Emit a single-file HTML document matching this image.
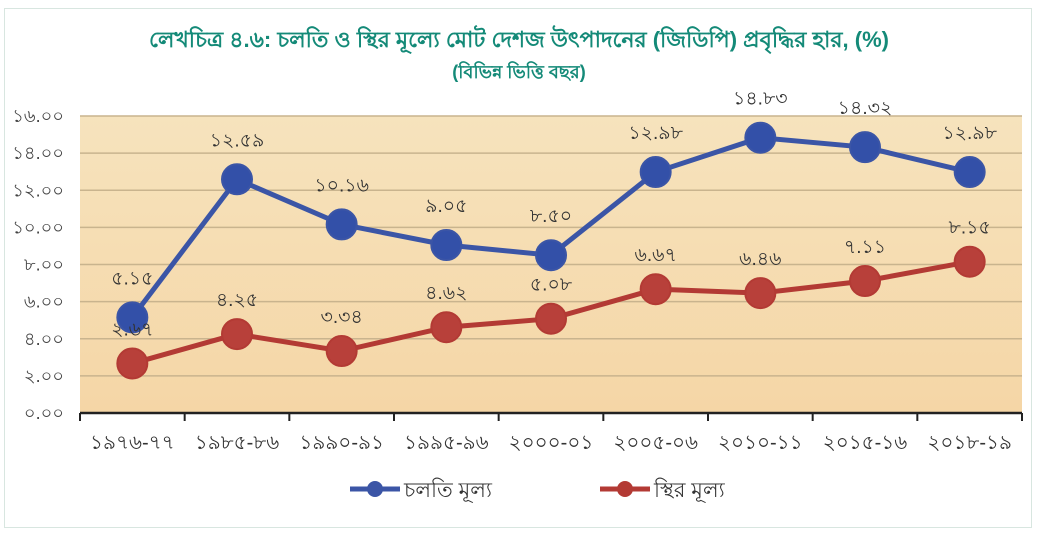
<!DOCTYPE html>
<html><head><meta charset="utf-8"><style>
body{margin:0;width:1038px;height:539px;background:#fff;overflow:hidden}
#frame{position:absolute;left:4px;top:8px;width:1028px;height:520px;border:1px solid #d8e6e0;box-sizing:border-box;background:#fff}
text{font-family:"Liberation Sans","Noto Sans CJK SC",sans-serif}
</style></head><body>
<div id="frame"></div>
<svg id="chart" width="1038" height="539" style="position:absolute;left:0;top:0">
<defs><linearGradient id="bg" x1="0" y1="0" x2="0" y2="1"><stop offset="0" stop-color="#f6e3bd"/><stop offset="1" stop-color="#f5d6a6"/></linearGradient></defs>
<text x="519" y="47" text-anchor="middle" font-size="22" fill="#148a78" font-weight="bold">লেখচিত্র ৪.৬: চলতি ও স্থির মূল্যে মোট দেশজ উৎপাদনের (জিডিপি) প্রবৃদ্ধির হার, (%)</text>
<text x="519" y="78" text-anchor="middle" font-size="18" fill="#148a78" font-weight="bold">(বিভিন্ন ভিত্তি বছর)</text>
<rect x="80" y="116" width="942" height="297" fill="url(#bg)"/>
<g id="grid"></g><g id="lines"></g><g id="labels"></g>
</svg>
<script>
const categories=["১৯৭৬-৭৭","১৯৮৫-৮৬","১৯৯০-৯১","১৯৯৫-৯৬","২০০০-০১","২০০৫-০৬","২০১০-১১","২০১৫-১৬","২০১৮-১৯"];
const currentPrice=[5.15,12.59,10.16,9.05,8.50,12.98,14.83,14.32,12.98];
const constantPrice=[2.67,4.25,3.34,4.62,5.08,6.67,6.46,7.11,8.15];
const yTicks=[0,2,4,6,8,10,12,14,16];
const NS="http://www.w3.org/2000/svg";
const L=80,R=1022,T=116,B=413;
const bn=s=>String(s).replace(/\d/g,d=>"০১২৩৪৫৬৭৮৯"[d]);
const fmt=v=>bn(v.toFixed(2));
const x=i=>L+(R-L)/categories.length*(i+0.5);
const y=v=>B-(v/16)*(B-T);
function mk(tag,attrs,parent){const e=document.createElementNS(NS,tag);for(const k in attrs)e.setAttribute(k,attrs[k]);document.getElementById(parent).appendChild(e);return e;}
yTicks.forEach(t=>{
 if(t>0){const g=mk('line',{x1:L,x2:R,y1:y(t),y2:y(t),stroke:'#c9b48e','stroke-width':1.5},'grid');
 
 }
 const tl=mk('text',{x:64,y:y(t)+6,'text-anchor':'end','font-size':18,fill:'#444'},'grid');tl.textContent=fmt(t);
 
 
});
const ax=mk('line',{x1:L,x2:R,y1:B,y2:B,stroke:'#222','stroke-width':2.5},'grid');


for(let i=0;i<=categories.length;i++){const tk=mk('line',{x1:L+(R-L)/categories.length*i,x2:L+(R-L)/categories.length*i,y1:B,y2:B+8,stroke:'#222','stroke-width':2},'grid');
 
 }
categories.forEach((c,i)=>{const t=mk('text',{x:x(i),y:449,'text-anchor':'middle','font-size':20,fill:'#333'},'grid');t.textContent=c;
 
 });
function series(vals,color,fillc,name,off){
 const p=mk('polyline',{points:vals.map((v,i)=>x(i)+','+y(v)).join(' '),fill:'none',stroke:color,'stroke-width':5},'lines');
 
 
 vals.forEach((v,i)=>{const c=mk('circle',{cx:x(i),cy:y(v),r:15,fill:fillc,stroke:color,'stroke-width':2},'lines');
  
  
  const t=mk('text',{x:x(i),y:y(v)-off,'text-anchor':'middle','font-size':19,fill:'#333'},'labels');t.textContent=fmt(v);
  
  });
}
series(constantPrice,'#b33a34','#b8403a','constant-price',28);
series(currentPrice,'#3b55a6','#3350a8','current-price',33);
const lg=[[350,'#3b55a6','চলতি মূল্য','legend-current-price'],[600,'#b33a34','স্থির মূল্য','legend-constant-price']];
lg.forEach(([lx,c,t,n])=>{
 const l=mk('line',{x1:lx,x2:lx+50,y1:489,y2:489,stroke:c,'stroke-width':5},'labels');
 
 
 const ci=mk('circle',{cx:lx+25,cy:489,r:8,fill:c},'labels');
 
 
 const tx=mk('text',{x:lx+54,y:497,'font-size':21,fill:'#333'},'labels');tx.textContent=t;
 
 
});
</script>
</body></html>
